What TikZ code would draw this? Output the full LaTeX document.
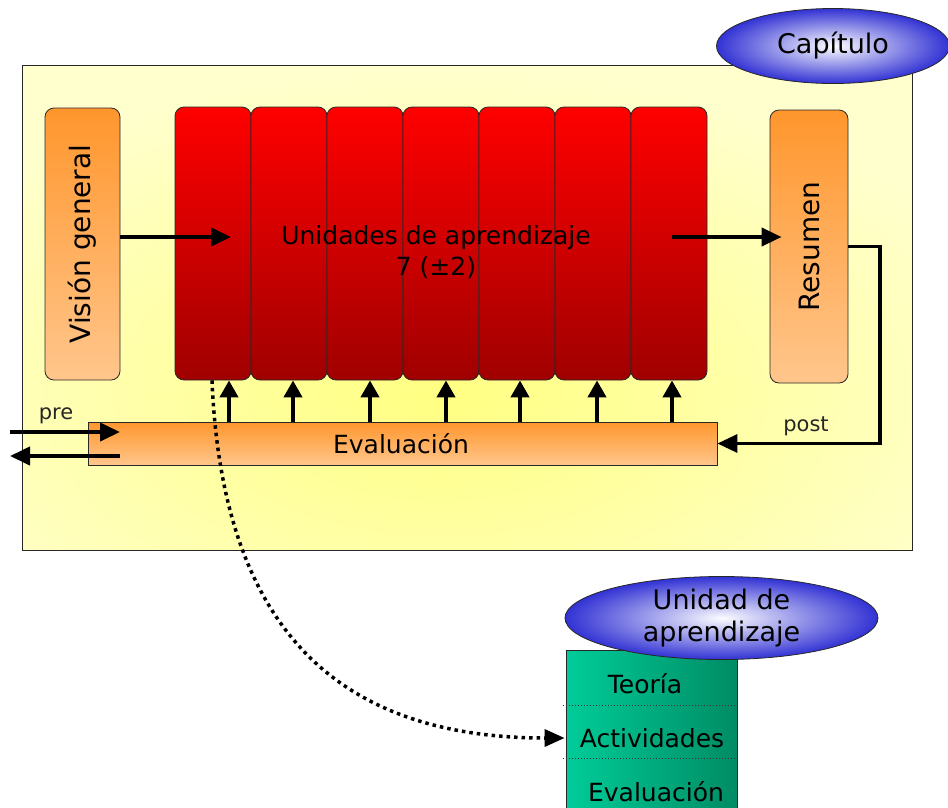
\documentclass[tikz,border=0pt]{standalone}
\usepackage{fontspec}
\setmainfont{DejaVu Sans}
\usetikzlibrary{arrows.meta,shapes.geometric,calc}

\definecolor{bgpale}{RGB}{255,255,206}
\definecolor{bgglow}{RGB}{255,255,130}
\definecolor{redtop}{RGB}{255,0,0}
\definecolor{redbot}{RGB}{160,0,0}
\definecolor{orgtop}{RGB}{255,150,45}
\definecolor{orgbot}{RGB}{255,198,140}
\definecolor{ovalblue}{RGB}{50,50,212}
\definecolor{ovalin}{RGB}{252,252,255}
\definecolor{greenL}{RGB}{0,204,153}
\definecolor{greenR}{RGB}{0,140,100}
\definecolor{edge}{RGB}{40,40,40}

\begin{document}
\begin{tikzpicture}[x=1pt,y=-1pt,
  unitcol/.style={draw=edge, line width=0.8pt, rounded corners=9pt,
    top color=redtop, bottom color=redbot,
    minimum width=76pt, minimum height=273pt, inner sep=0pt},
  sidebox/.style={draw=edge, line width=0.8pt, rounded corners=9pt,
    top color=orgtop, bottom color=orgbot, inner sep=0pt},
  evalbar/.style={draw=edge, line width=0.8pt,
    top color=orgtop, bottom color=orgbot,
    minimum width=629pt, minimum height=43pt, inner sep=0pt},
  oval/.style={ellipse, draw=edge, line width=0.8pt,
    inner color=ovalin, outer color=ovalblue,
    inner sep=0pt, align=center},
  greenbox/.style={draw=edge, line width=0.8pt,
    left color=greenL, right color=greenR,
    minimum width=171pt, minimum height=180pt, inner sep=0pt},
  txt/.style={font=\fontsize{25}{31}\selectfont, text=black, inner sep=0pt},
  sidetxt/.style={font=\fontsize{28}{32}\selectfont, text=black, inner sep=0pt, rotate=90},
  lbl/.style={font=\fontsize{21}{25}\selectfont, text=black!85, inner sep=0pt},
  arr/.style={line width=4pt, -{Triangle[length=20pt,width=18pt]}},
  looparr/.style={line width=3.2pt, -{Triangle[length=20pt,width=18pt]}},
  uparr/.style={line width=4pt, -{Triangle[length=17pt,width=18pt]}},
  dotarr/.style={line width=3.5pt, dash pattern=on 3.5pt off 4pt,
    -{Triangle[length=20pt,width=17pt]}},
  divider/.style={line width=1pt, dotted, black!80}
]
\useasboundingbox (0,0) rectangle (948,807);

% chapter frame with a yellow glow behind the units
\fill[bgpale] (22,65) rectangle (912,550);
\begin{scope}
  \clip (22,65) rectangle (912,550);
  \shade[inner color=bgglow, outer color=bgpale] (440,395) ellipse (600pt and 330pt);
\end{scope}
\draw[edge, line width=1pt] (22,65) rectangle (912,550);

% chapter title
\node[oval, minimum width=233pt, minimum height=75pt, font=\fontsize{27}{30}\selectfont]
  (cap) at (833,46) {Capítulo};

% overview and summary
\node[sidebox, minimum width=75pt, minimum height=272pt] (vis) at (82.5,244) {};
\node[sidetxt] (vistxt) at (vis.center) {Visión general};
\node[sidebox, minimum width=78pt, minimum height=273pt] (res) at (809,246.5) {};
\node[sidetxt] (restxt) at (res.center) {Resumen};

% learning units
\node[unitcol] (u1) at (213,243.5) {};
\node[unitcol] (u2) at (289,243.5) {};
\node[unitcol] (u3) at (365,243.5) {};
\node[unitcol] (u4) at (441,243.5) {};
\node[unitcol] (u5) at (517,243.5) {};
\node[unitcol] (u6) at (593,243.5) {};
\node[unitcol] (u7) at (669,243.5) {};
\node[txt, align=center] (utxt) at (436,252) {Unidades de aprendizaje\\7 (±2)};

% assessment bar
\node[evalbar] (bar) at (402.5,443.5) {};
\node[txt] (bartxt) at (401,444) {Evaluación};

% flow arrows
\coordinate (inU) at (231,237);
\coordinate (outU) at (672,237);
\draw[arr] (vis.east |- inU) -- (inU);
\draw[arr] (outU) -- ([xshift=12pt]res.west |- outU);

\coordinate (loopc) at (880,443.5);
\draw[looparr] (res.east) -| (loopc) -- (bar.east);
\node[lbl] (postlbl) at (806,426) {post};

\foreach \n/\dx in {1/16,2/4,3/5,4/5,5/3,6/4,7/3}
  \draw[uparr] ([xshift=\dx pt]u\n.south |- bar.north) -- ([xshift=\dx pt]u\n.south);

% pre-assessment in and out
\coordinate (preA) at (10,432);
\coordinate (preB) at (120,432);
\coordinate (preC) at (120,456);
\coordinate (preD) at (10,456);
\draw[arr] (preA) -- (preB);
\draw[arr] (preC) -- (preD);
\node[lbl] (prelbl) at (56,416) {pre};

% unit detail
\node[greenbox] (gbox) at (651.5,740) {};
\node[txt] (teo) at (645,684) {Teoría};
\node[txt] (act) at (652,738) {Actividades};
\node[txt] (evl) at (656,792) {Evaluación};
\draw[divider] ([xshift=-3pt]gbox.west |- 0,705) -- (gbox.east |- 0,705);
\draw[divider] ([xshift=-3pt]gbox.west |- 0,758) -- (gbox.east |- 0,758);
\node[oval, minimum width=313pt, minimum height=83pt, font=\fontsize{27}{32}\selectfont]
  (uni) at (721.5,618) {Unidad de\\aprendizaje};

% zoom from one unit to its structure
\draw[dotarr] ([xshift=-1pt]u1.south) .. controls (222,620) and (330,738) .. ([xshift=-1pt]gbox.west |- act);
\end{tikzpicture}
\end{document}
